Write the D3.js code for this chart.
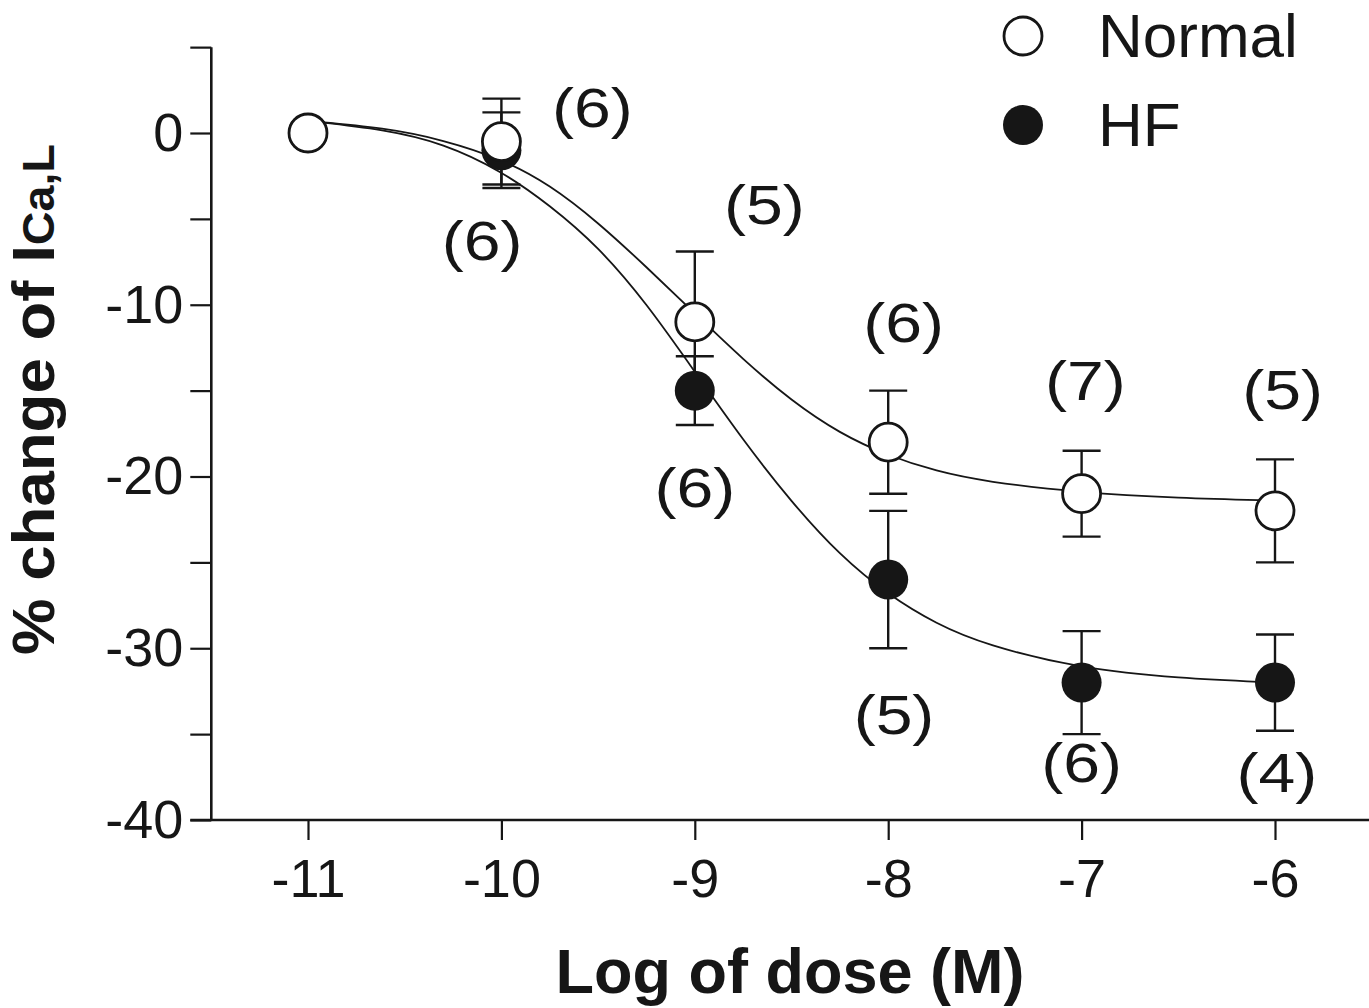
<!DOCTYPE html>
<html>
<head>
<meta charset="utf-8">
<script src="https://cdn.jsdelivr.net/npm/d3@7"></script>
<style>
  html, body { margin: 0; padding: 0; background: #fff; }
  svg { display: block; }
</style>
</head>
<body>
<svg id="chart" width="1369" height="1008"></svg>
<script>
// ---------------- data ----------------
const logDose = [-11, -10, -9, -8, -7, -6];
const xTickLabels = ["-11", "-10", "-9", "-8", "-7", "-6"];
const yTickValues = [5, 0, -5, -10, -15, -20, -25, -30, -35, -40];
const yTickLabels = ["", "0", "", "-10", "", "-20", "", "-30", "", "-40"];

const normalMean = [0, -0.5, -11, -18, -21, -22];
const normalErr  = [0, 2.5, 4.1, 3.0, 2.5, 3.0];
const normalN    = [null, 6, 5, 6, 7, 5];

const hfMean = [0, -1.0, -15, -26, -32, -32];
const hfErr  = [0, 2.2, 2.0, 4.0, 3.0, 2.8];
const hfN    = [null, 6, 6, 5, 6, 4];

// fitted curves (log dose, % change)
const normalFitX = [-11, -10.6, -10.3, -10.0, -9.75, -9.5, -9.25, -9.0, -8.75, -8.5, -8.25, -8.0, -7.75, -7.5, -7.0, -6.5, -6.0];
const normalFitY = [0.7, 0.3, -0.4, -1.5, -3.0, -5.2, -7.8, -10.5, -13.2, -15.6, -17.5, -18.8, -19.7, -20.3, -20.95, -21.25, -21.4];
const hfFitX = [-11, -10.6, -10.3, -10.0, -9.75, -9.5, -9.25, -9.0, -8.75, -8.5, -8.25, -8.0, -7.75, -7.5, -7.0, -6.5, -6.0];
const hfFitY = [0.7, 0.2, -0.6, -2.2, -4.2, -6.6, -9.9, -13.9, -17.9, -21.5, -24.6, -26.9, -28.6, -29.8, -31.2, -31.75, -32.0];

const legendLabels = ["Normal", "HF"];

// ---------------- layout (label placement, in data units) ----------------
const normalLabelPos = [null, [-9.53, 1.2], [-8.64, -4.4], [-7.92, -11.3], [-6.98, -14.65], [-5.96, -15.2]];
const hfLabelPos     = [null, [-10.1, -6.5], [-9.0, -20.9], [-7.97, -34.1], [-7.0, -36.9], [-5.99, -37.5]];

// ---------------- drawing ----------------
const svg = d3.select("#chart");
const INK = "#161616";
const FONT = "'Liberation Sans', Arial, Helvetica, sans-serif";

svg.append("rect").attr("width", 1369).attr("height", 1008).attr("fill", "#fff");

const x = d3.scaleLinear().domain([-11, -6]).range([308, 1275]);
const y = d3.scaleLinear().domain([0, -40]).range([133, 820]);
const axisX = x(-11.5);

// Y axis
const yAxis = svg.append("g")
  .attr("transform", `translate(${axisX},0)`)
  .call(d3.axisLeft(y).tickValues(yTickValues).tickSize(21).tickPadding(7)
        .tickFormat((d, i) => yTickLabels[i]));
yAxis.select(".domain").remove();
yAxis.selectAll(".tick line").attr("stroke", INK).attr("stroke-width", 2.2);
yAxis.selectAll(".tick text").attr("fill", INK).style("font-family", FONT).style("font-size", "54px");
svg.append("line").attr("x1", axisX).attr("x2", axisX).attr("y1", y(5)).attr("y2", y(-40))
  .attr("stroke", INK).attr("stroke-width", 2.6);

// X axis
const xAxis = svg.append("g")
  .attr("transform", `translate(0,${y(-40)})`)
  .call(d3.axisBottom(x).tickValues(logDose).tickSize(20).tickPadding(19)
        .tickFormat((d, i) => xTickLabels[i]));
xAxis.select(".domain").remove();
xAxis.selectAll(".tick line").attr("stroke", INK).attr("stroke-width", 2.2);
xAxis.selectAll(".tick text").attr("fill", INK).style("font-family", FONT).style("font-size", "54px");
svg.append("line").attr("x1", axisX - 21).attr("x2", 1369).attr("y1", y(-40)).attr("y2", y(-40))
  .attr("stroke", INK).attr("stroke-width", 2.6);

// Axis titles
svg.append("text")
  .attr("x", 790).attr("y", 993)
  .attr("text-anchor", "middle")
  .attr("fill", INK)
  .style("font-family", FONT).style("font-weight", "bold").style("font-size", "63px")
  .text("Log of dose (M)");

const yt = svg.append("text")
  .attr("transform", "translate(54,655) rotate(-90) scale(1.06,1)")
  .attr("fill", INK)
  .style("font-family", FONT).style("font-weight", "bold").style("font-size", "60px");
yt.append("tspan").text("% change of I");
yt.append("tspan").style("font-size", "44px").text("Ca,L");

// Error bars
function errorBars(mean, err, cls) {
  const g = svg.append("g").attr("class", cls);
  logDose.forEach((d, i) => {
    if (!err[i]) return;
    const cx = x(d), y1 = y(mean[i] + err[i]), y2 = y(mean[i] - err[i]);
    g.append("line").attr("x1", cx).attr("x2", cx).attr("y1", y1).attr("y2", y2)
      .attr("stroke", INK).attr("stroke-width", 2.4);
    [y1, y2].forEach(yy => g.append("line").attr("x1", cx - 19).attr("x2", cx + 19)
      .attr("y1", yy).attr("y2", yy).attr("stroke", INK).attr("stroke-width", 2.4));
  });
}
errorBars(normalMean, normalErr, "err-normal");
errorBars(hfMean, hfErr, "err-hf");

// Fitted curves
const line = d3.line().x(d => x(d[0])).y(d => y(d[1])).curve(d3.curveBasis);
svg.append("path").attr("d", line(normalFitX.map((v, i) => [v, normalFitY[i]])))
  .attr("fill", "none").attr("stroke", INK).attr("stroke-width", 1.8);
svg.append("path").attr("d", line(hfFitX.map((v, i) => [v, hfFitY[i]])))
  .attr("fill", "none").attr("stroke", INK).attr("stroke-width", 1.8);

// Points
svg.append("g").selectAll("circle").data(logDose).join("circle")
  .attr("cx", d => x(d)).attr("cy", (d, i) => y(hfMean[i])).attr("r", 20)
  .attr("fill", INK);
svg.append("g").selectAll("circle").data(logDose).join("circle")
  .attr("cx", d => x(d)).attr("cy", (d, i) => y(normalMean[i])).attr("r", 19)
  .attr("fill", "#fff").attr("stroke", INK).attr("stroke-width", 2.8);

// n labels
function nLabels(ns, pos) {
  ns.forEach((n, i) => {
    if (n == null) return;
    const px = x(pos[i][0]), py = y(pos[i][1]) + 15;
    svg.append("text")
      .attr("transform", `translate(${px},${py}) scale(1.18,1)`)
      .attr("text-anchor", "middle").attr("fill", INK)
      .style("font-family", FONT).style("font-size", "56px")
      .text(`(${n})`);
  });
}
nLabels(normalN, normalLabelPos);
nLabels(hfN, hfLabelPos);

// Legend
const lg = svg.append("g");
lg.append("circle").attr("cx", 1023).attr("cy", 36).attr("r", 19)
  .attr("fill", "#fff").attr("stroke", INK).attr("stroke-width", 2.8);
lg.append("circle").attr("cx", 1023).attr("cy", 125).attr("r", 20).attr("fill", INK);
lg.selectAll("text").data(legendLabels).join("text")
  .attr("x", 1098).attr("y", (d, i) => 57 + i * 89)
  .attr("fill", INK)
  .style("font-family", FONT).style("font-size", "62px")
  .text(d => d);
</script>
</body>
</html>
